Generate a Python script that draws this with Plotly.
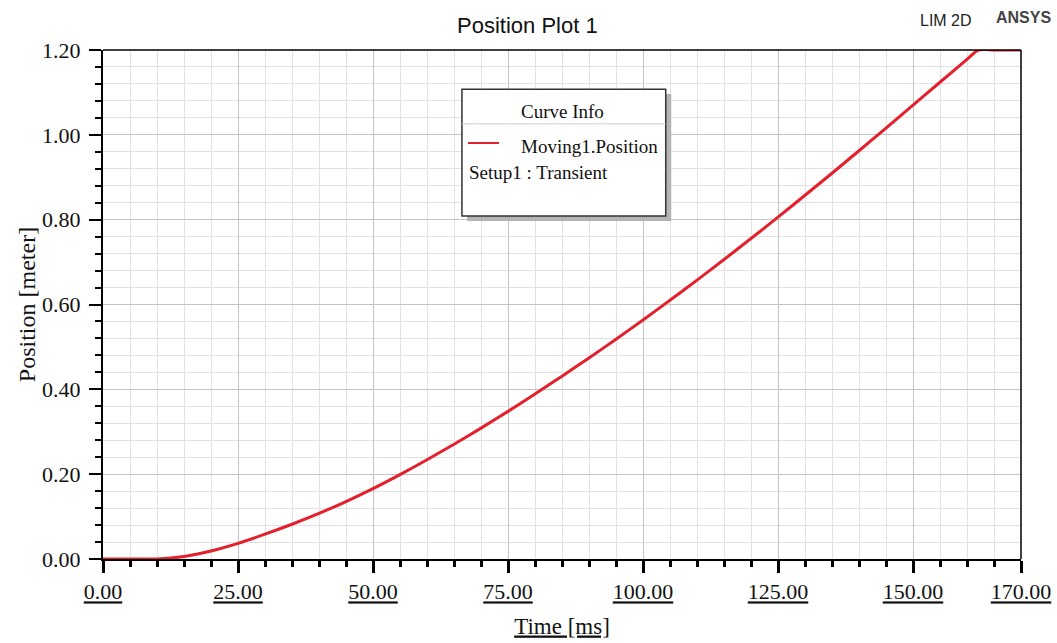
import plotly.graph_objects as go

# Transient position of Moving1 (Setup1 : Transient)
time_ms = [0, 5, 10, 15, 20, 25, 30, 35, 40, 45, 50, 55, 60, 65, 70, 75, 80, 85,
           90, 95, 100, 105, 110, 115, 120, 125, 130, 135, 140, 145, 150, 155,
           160, 162.1, 165, 170]
position_m = [0.0, 0.0, 0.0, 0.006, 0.019, 0.037, 0.0585, 0.082, 0.1075, 0.1355,
              0.166, 0.199, 0.234, 0.2705, 0.3085, 0.348, 0.389, 0.431, 0.474,
              0.518, 0.5635, 0.61, 0.6575, 0.706, 0.7555, 0.806, 0.8575, 0.9095,
              0.9625, 1.016, 1.07, 1.124, 1.178, 1.2, 1.2, 1.2]

x_ticks = [0, 25, 50, 75, 100, 125, 150, 170]
x_minor = [v for v in range(5, 170, 5) if v not in x_ticks]
y_ticks = [0.0, 0.2, 0.4, 0.6, 0.8, 1.0, 1.2]
y_minor = [round(0.04 * k, 2) for k in range(1, 30) if k % 5 != 0]

curve_name = "Moving1.Position"
curve_color = "#e3202b"
serif = "Liberation Serif, Times New Roman, serif"
sans = "Liberation Sans, Arial, sans-serif"

fig = go.Figure()
fig.add_trace(go.Scatter(x=time_ms, y=position_m, mode="lines", name=curve_name,
                         line=dict(color=curve_color, width=3, shape="spline",
                                   smoothing=0.6),
                         showlegend=False))

grid_minor = "#e1e1e1"
grid_major = "#c4c4c4"

fig.update_xaxes(
    range=[0, 170], tickmode="array", tickvals=x_ticks,
    ticktext=[f"<u>{v:.2f}</u>" for v in x_ticks],
    ticks="outside", ticklen=12, tickwidth=3, tickcolor="black",
    showline=True, linecolor="black", linewidth=2, mirror=False, automargin=False,
    showgrid=True, gridcolor=grid_major, gridwidth=1, zeroline=False,
    tickfont=dict(family=serif, size=22, color="#111"),
    title=dict(text="<u>Time [ms]</u>", font=dict(family=serif, size=23, color="#111"),
               standoff=14),
    minor=dict(tickmode="array", tickvals=x_minor, ticks="outside", ticklen=6,
               tickwidth=3, tickcolor="black", showgrid=True, gridcolor=grid_minor,
               gridwidth=1),
)
fig.update_yaxes(
    range=[0, 1.2], tickmode="array", tickvals=y_ticks,
    ticktext=[f"{v:.2f}" for v in y_ticks],
    ticks="outside", ticklen=12, tickwidth=2, tickcolor="black",
    showline=True, linecolor="black", linewidth=2, mirror=False, automargin=False,
    showgrid=True, gridcolor=grid_major, gridwidth=1, zeroline=False,
    ticklabelstandoff=4,
    tickfont=dict(family=serif, size=22, color="#111"),
    title=dict(text="Position [meter]", font=dict(family=serif, size=24, color="#111"),
               standoff=0),
    minor=dict(tickmode="array", tickvals=y_minor, ticks="outside", ticklen=6,
               tickwidth=2, tickcolor="black", showgrid=True, gridcolor=grid_minor,
               gridwidth=1),
)

shapes = [
    # top and right border of the plot frame
    dict(type="line", xref="paper", yref="paper", x0=0, x1=1, y0=1, y1=1,
         line=dict(color="black", width=1.5)),
    dict(type="line", xref="paper", yref="paper", x0=1, x1=1, y0=0, y1=1,
         line=dict(color="black", width=1.5)),
    # curve info box: shadow, frame, separator, sample line
    dict(type="rect", xref="paper", yref="paper", x0=0.3965, x1=0.619, y0=0.664, y1=0.9136,
         fillcolor="#b4b4b4", line=dict(width=0)),
    dict(type="rect", xref="paper", yref="paper", x0=0.391, x1=0.613, y0=0.674, y1=0.923,
         fillcolor="white", line=dict(color="#333", width=1.5)),
    dict(type="line", xref="paper", yref="paper", x0=0.391, x1=0.613, y0=0.855, y1=0.855,
         line=dict(color="#cfcfcf", width=1)),
    dict(type="line", xref="paper", yref="paper", x0=0.3976, x1=0.4314, y0=0.8173, y1=0.8173,
         line=dict(color=curve_color, width=2)),
]


def label(text, x, y, size, family, color="#111", xanchor="center"):
    return dict(text=text, xref="paper", yref="paper", x=x, y=y, xanchor=xanchor,
                yanchor="middle", showarrow=False,
                font=dict(family=family, size=size, color=color))


annotations = [
    label("Position Plot 1", 0.462, 1.049, 22, sans),
    label("LIM 2D", 0.918, 1.057, 16, sans, "#222"),
    label("<b>ANSYS</b>", 1.003, 1.063, 16, sans, "#444"),
    label("Curve Info", 0.501, 0.880, 19, serif),
    label(curve_name, 0.4532, 0.811, 19, serif, xanchor="left"),
    label("Setup1 : Transient", 0.3965, 0.760, 19, serif, xanchor="left"),
]

fig.update_layout(
    width=1057, height=643,
    margin=dict(l=103, r=36, t=50, b=84),
    paper_bgcolor="white", plot_bgcolor="white",
    shapes=shapes, annotations=annotations,
)

fig.write_html("out.html")
